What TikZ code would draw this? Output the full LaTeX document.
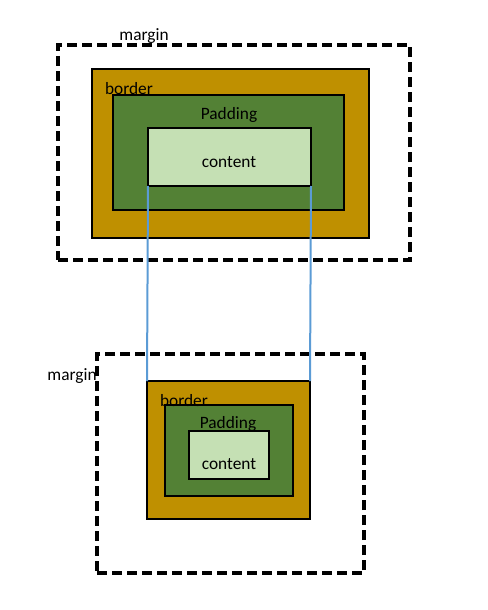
\documentclass[tikz,border=0pt]{standalone}
\usepackage{fontspec}
\setmainfont{Carlito}
\definecolor{bordergold}{HTML}{BF9000}
\definecolor{padgreen}{HTML}{538135}
\definecolor{contgreen}{HTML}{C5E0B4}
\definecolor{linkblue}{HTML}{5B9BD5}
\begin{document}
\begin{tikzpicture}[x=0.75pt,y=-0.75pt,
  box/.style={draw,line width=1.5pt,anchor=north west,inner sep=0pt,outer sep=0pt},
  marginbox/.style={box,line width=2.6pt,dash pattern=on 7.5pt off 3.75pt},
  lbl/.style={font=\fontsize{13}{15}\selectfont,inner sep=0pt}]
\path[use as bounding box] (0,0) rectangle (488,610);
% upper box model
\node[marginbox,minimum width=264pt,minimum height=161.25pt] (tmargin) at (58,45) {};
\node[box,fill=bordergold,minimum width=207.75pt,minimum height=126.75pt] (tborder) at (92,69) {};
\node[box,fill=padgreen,minimum width=173.25pt,minimum height=86.25pt] (tpadding) at (113,95) {};
\node[box,fill=contgreen,minimum width=122.25pt,minimum height=43.5pt] (tcontent) at (148,128) {};
\node[lbl] (tmarginlbl) at (144,36) {margin};
\node[lbl] (tborderlbl) at (129,89) {border};
\node[lbl] (tpaddinglbl) at (229,115) {Padding};
\node[lbl] (tcontentlbl) at (229,162) {content};
% lower box model
\node[marginbox,minimum width=200.25pt,minimum height=164.25pt] (bmargin) at (97,354) {};
\node[box,fill=bordergold,minimum width=122.25pt,minimum height=103.5pt] (bborder) at (147,381) {};
\node[box,fill=padgreen,minimum width=96pt,minimum height=68.25pt] (bpadding) at (165,405) {};
\node[box,fill=contgreen,minimum width=60pt,minimum height=36pt] (bcontent) at (189,431) {};
\node[lbl] (bmarginlbl) at (72,376) {margin};
\node[lbl] (bborderlbl) at (184,401) {border};
\node[lbl] (bpaddinglbl) at (228,424) {Padding};
\node[lbl] (bcontentlbl) at (229,464) {content};
% links
\draw[linkblue,line width=1.5pt] (tcontent.south west) -- (bborder.north west);
\draw[linkblue,line width=1.5pt] (tcontent.south east) -- (bborder.north east);
\end{tikzpicture}
\end{document}
